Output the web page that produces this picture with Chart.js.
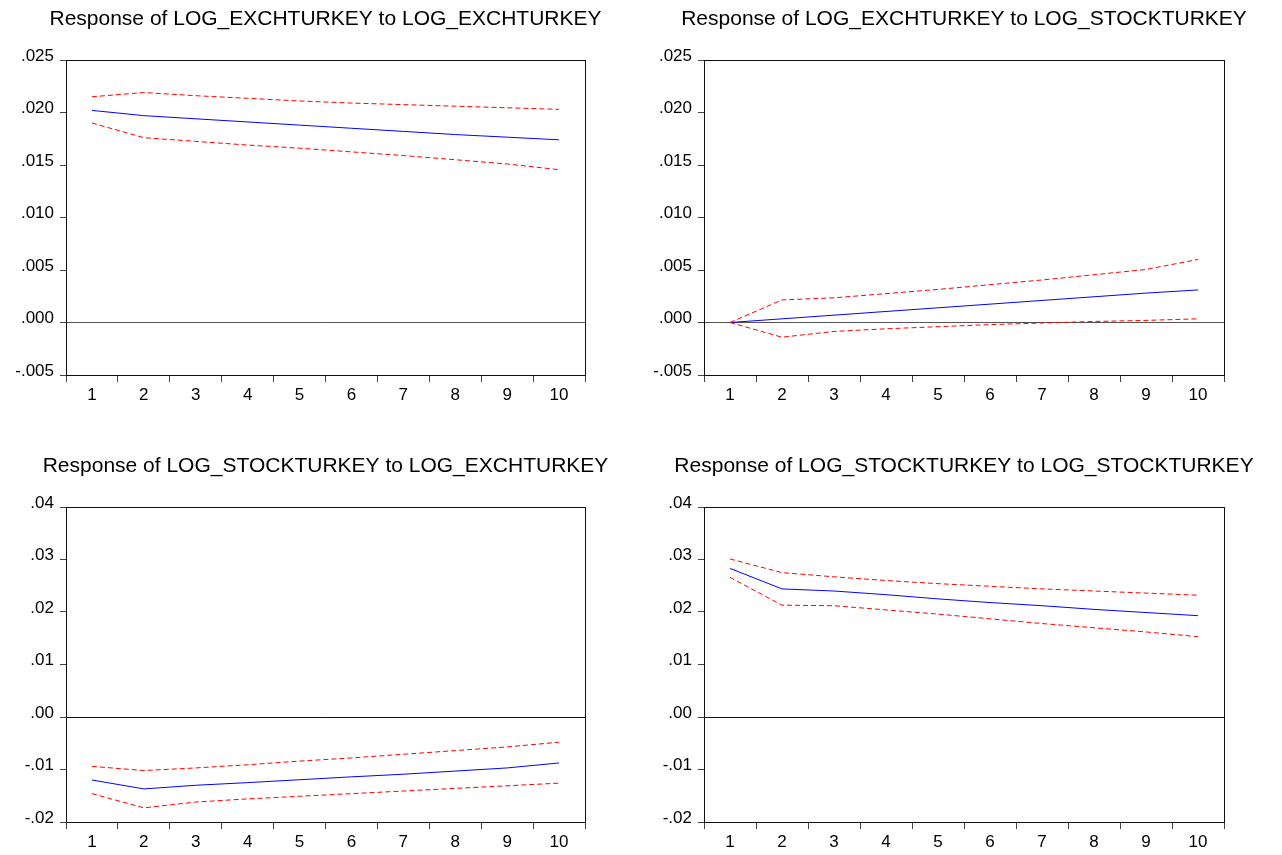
<!DOCTYPE html>
<html lang="en">
<head>
  <meta charset="UTF-8" />
  <title>Impulse responses</title>
  <style>
    body {
      margin: 0;
      background: #fff;
      width: 1282px;
      height: 855px;
      position: relative;
      overflow: hidden;
    }

    .panel {
      position: absolute;
    }
  </style>
</head>
<body>
  <div class="panel" style="left:0;top:0;width:641px;height:430px"><canvas id="c1"></canvas></div>
  <div class="panel" style="left:641px;top:0;width:641px;height:430px"><canvas id="c2"></canvas></div>
  <div class="panel" style="left:0;top:430px;width:641px;height:425px"><canvas id="c3"></canvas></div>
  <div class="panel" style="left:641px;top:430px;width:641px;height:425px"><canvas id="c4"></canvas></div>

  <script src="https://cdn.jsdelivr.net/npm/chart.js"></script>
  <script>
    const periods = ['1', '2', '3', '4', '5', '6', '7', '8', '9', '10'];

    // Response of LOG_EXCHTURKEY to LOG_EXCHTURKEY
    const exchExchResp  = [0.0202, 0.0197, 0.0194, 0.0191, 0.0188, 0.0185, 0.0182, 0.0179, 0.01765, 0.0174];
    const exchExchUpper = [0.0215, 0.0219, 0.0216, 0.02135, 0.0211, 0.0209, 0.02075, 0.0206, 0.02045, 0.0203];
    const exchExchLower = [0.0190, 0.0176, 0.01725, 0.0169, 0.0166, 0.01625, 0.0159, 0.0155, 0.0151, 0.01455];

    // Response of LOG_EXCHTURKEY to LOG_STOCKTURKEY
    const exchStockResp  = [0.0, 0.00035, 0.0007, 0.00105, 0.0014, 0.00175, 0.0021, 0.00245, 0.0028, 0.0031];
    const exchStockUpper = [0.0, 0.00215, 0.00235, 0.00275, 0.00315, 0.0036, 0.00405, 0.00455, 0.00505, 0.0060];
    const exchStockLower = [0.0, -0.0014, -0.00085, -0.0006, -0.0004, -0.0002, -0.00005, 0.0001, 0.0002, 0.00035];

    // Response of LOG_STOCKTURKEY to LOG_EXCHTURKEY
    const stockExchResp  = [-0.0120, -0.0137, -0.0130, -0.0125, -0.01195, -0.0114, -0.0109, -0.0103, -0.0097, -0.00875];
    const stockExchUpper = [-0.0094, -0.0102, -0.0097, -0.0091, -0.0084, -0.0078, -0.0071, -0.0064, -0.0057, -0.0048];
    const stockExchLower = [-0.0146, -0.0173, -0.0162, -0.0156, -0.0151, -0.0146, -0.0141, -0.0136, -0.0131, -0.0126];

    // Response of LOG_STOCKTURKEY to LOG_STOCKTURKEY
    const stockStockResp  = [0.0283, 0.0244, 0.0240, 0.0233, 0.0225, 0.0218, 0.0212, 0.0205, 0.0199, 0.0193];
    const stockStockUpper = [0.0301, 0.0275, 0.0267, 0.0260, 0.0254, 0.0249, 0.0244, 0.0240, 0.0236, 0.0232];
    const stockStockLower = [0.0266, 0.0213, 0.0212, 0.0204, 0.0196, 0.0187, 0.0178, 0.0170, 0.0162, 0.0153];

    const exchTicks  = [-0.005, 0.000, 0.005, 0.010, 0.015, 0.020, 0.025];
    const stockTicks = [-0.02, -0.01, 0.00, 0.01, 0.02, 0.03, 0.04];

    const FONT = "'Liberation Sans', Arial, sans-serif";

    // title above the plot box + the box itself
    const framePlugin = {
      id: 'frame',
      afterDraw(chart) {
        const a = chart.chartArea;
        const c = chart.ctx;
        c.save();
        c.strokeStyle = '#111';
        c.lineWidth = 1;
        c.strokeRect(Math.round(a.left) + 0.5, Math.round(a.top) + 0.5,
                     Math.round(a.right - a.left), Math.round(a.bottom - a.top));
        c.fillStyle = '#000';
        c.font = '21px ' + FONT;
        c.textAlign = 'center';
        c.textBaseline = 'middle';
        c.fillText(chart.options.plugins.frame.text, (a.left + a.right) / 2, a.top - 41);
        c.restore();
      }
    };

    function fmt(v, dec) {
      const s = Math.abs(v).toFixed(dec).replace(/^0/, '');
      return (v < -1e-9 ? '-' : '') + s;
    }

    function makeChart(id, title, resp, upper, lower, ticks, dec, pad) {
      const ctx = document.getElementById(id).getContext('2d');
      return new Chart(ctx, {
        type: 'line',
        data: {
          labels: periods,
          datasets: [
            { data: upper, borderColor: '#ff0000', borderWidth: 1, borderDash: [5, 3], pointRadius: 0, fill: false },
            { data: lower, borderColor: '#ff0000', borderWidth: 1, borderDash: [5, 3], pointRadius: 0, fill: false },
            { data: resp, borderColor: '#0000ff', borderWidth: 1, pointRadius: 0, fill: false }
          ]
        },
        options: {
          responsive: true,
          maintainAspectRatio: false,
          animation: false,
          events: [],
          layout: { padding: { top: pad.top, right: pad.right, left: 0, bottom: 0 } },
          plugins: {
            legend: { display: false },
            tooltip: { enabled: false },
            frame: { text: title }
          },
          scales: {
            x: {
              type: 'category',
              offset: true,
              border: { display: false },
              grid: { offset: true, drawOnChartArea: false, tickLength: 7, color: '#000', tickColor: '#444' },
              ticks: { color: '#000', padding: 3, maxRotation: 0, font: { family: FONT, size: 17 } },
              afterFit: s => { s.height = pad.xh; }
            },
            y: {
              min: ticks[0],
              max: ticks[ticks.length - 1],
              border: { display: false },
              afterBuildTicks: s => { s.ticks = ticks.map(v => ({ value: v })); },
              afterFit: s => { s.width = pad.left; },
              grid: {
                tickLength: 6,
                tickColor: '#444',
                color: c => (c.tick && Math.abs(c.tick.value) < 1e-9) ? pad.zero : 'rgba(0,0,0,0)'
              },
              ticks: {
                color: '#000',
                padding: 6,
                labelOffset: -4,
                font: { family: FONT, size: 17 },
                callback: v => fmt(v, dec)
              }
            }
          }
        },
        plugins: [framePlugin]
      });
    }

    makeChart('c1', 'Response of LOG_EXCHTURKEY to LOG_EXCHTURKEY',
      exchExchResp, exchExchUpper, exchExchLower, exchTicks, 3,
      { top: 60, right: 56, left: 66, xh: 55, zero: '#555' });
    makeChart('c2', 'Response of LOG_EXCHTURKEY to LOG_STOCKTURKEY',
      exchStockResp, exchStockUpper, exchStockLower, exchTicks, 3,
      { top: 60, right: 58, left: 63, xh: 55, zero: '#555' });
    makeChart('c3', 'Response of LOG_STOCKTURKEY to LOG_EXCHTURKEY',
      stockExchResp, stockExchUpper, stockExchLower, stockTicks, 2,
      { top: 77, right: 56, left: 66, xh: 33, zero: '#111' });
    makeChart('c4', 'Response of LOG_STOCKTURKEY to LOG_STOCKTURKEY',
      stockStockResp, stockStockUpper, stockStockLower, stockTicks, 2,
      { top: 77, right: 58, left: 63, xh: 33, zero: '#111' });
  </script>
</body>
</html>
